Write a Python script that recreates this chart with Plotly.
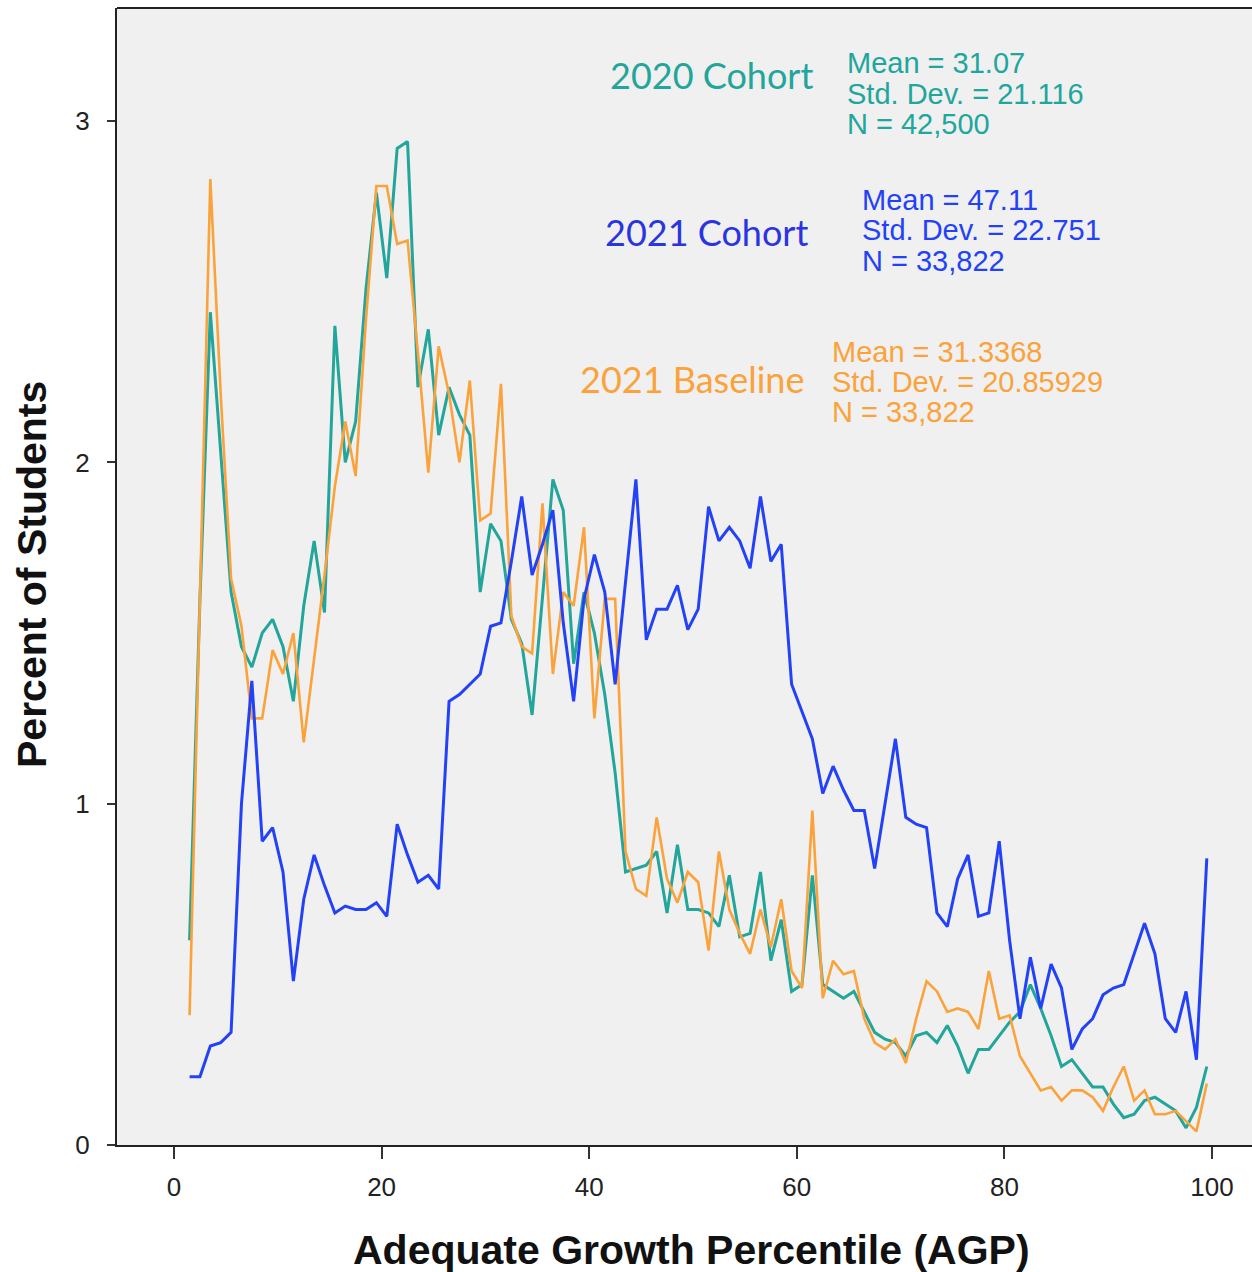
import plotly.graph_objects as go

# AGP bins (plotted at bin midpoints)
bin_mid = [k + 0.5 for k in range(1, 100)]

# Percent of students per AGP bin
cohort_2020 = [
    0.60, 1.60, 2.44, 2.03, 1.62, 1.46, 1.40, 1.50, 1.54, 1.46,
    1.30, 1.58, 1.77, 1.56, 2.40, 2.00, 2.12, 2.51, 2.79, 2.54,
    2.92, 2.94, 2.22, 2.39, 2.08, 2.22, 2.14, 2.08, 1.62, 1.82,
    1.77, 1.54, 1.47, 1.26, 1.61, 1.95, 1.86, 1.41, 1.62, 1.50,
    1.32, 1.09, 0.80, 0.81, 0.82, 0.86, 0.68, 0.88, 0.69, 0.69,
    0.68, 0.64, 0.79, 0.61, 0.62, 0.80, 0.54, 0.66, 0.45, 0.47,
    0.79, 0.47, 0.45, 0.43, 0.45, 0.39, 0.33, 0.31, 0.30, 0.26,
    0.32, 0.33, 0.30, 0.35, 0.29, 0.21, 0.28, 0.28, 0.32, 0.36,
    0.39, 0.47, 0.40, 0.32, 0.23, 0.25, 0.21, 0.17, 0.17, 0.12,
    0.08, 0.09, 0.13, 0.14, 0.12, 0.10, 0.05, 0.11, 0.23,
]

cohort_2021 = [
    0.20, 0.20, 0.29, 0.30, 0.33, 1.00, 1.36, 0.89, 0.93, 0.80,
    0.48, 0.72, 0.85, 0.76, 0.68, 0.70, 0.69, 0.69, 0.71, 0.67,
    0.94, 0.85, 0.77, 0.79, 0.75, 1.30, 1.32, 1.35, 1.38, 1.52,
    1.53, 1.71, 1.90, 1.67, 1.76, 1.86, 1.53, 1.30, 1.60, 1.73,
    1.62, 1.35, 1.65, 1.95, 1.48, 1.57, 1.57, 1.64, 1.51, 1.57,
    1.87, 1.77, 1.81, 1.77, 1.69, 1.90, 1.71, 1.76, 1.35, 1.27,
    1.19, 1.03, 1.11, 1.04, 0.98, 0.98, 0.81, 1.00, 1.19, 0.96,
    0.94, 0.93, 0.68, 0.64, 0.78, 0.85, 0.67, 0.68, 0.89, 0.60,
    0.37, 0.55, 0.40, 0.53, 0.46, 0.28, 0.34, 0.37, 0.44, 0.46,
    0.47, 0.56, 0.65, 0.56, 0.37, 0.33, 0.45, 0.25, 0.84,
]

baseline_2021 = [
    0.38, 1.65, 2.83, 2.20, 1.66, 1.52, 1.25, 1.25, 1.45, 1.38,
    1.50, 1.18, 1.42, 1.67, 1.93, 2.12, 1.96, 2.42, 2.81, 2.81,
    2.64, 2.65, 2.32, 1.97, 2.34, 2.20, 2.00, 2.24, 1.83, 1.85,
    2.23, 1.55, 1.46, 1.44, 1.88, 1.38, 1.62, 1.58, 1.81, 1.25,
    1.60, 1.60, 0.86, 0.75, 0.73, 0.96, 0.78, 0.71, 0.80, 0.77,
    0.57, 0.86, 0.69, 0.62, 0.56, 0.69, 0.58, 0.72, 0.51, 0.46,
    0.98, 0.43, 0.54, 0.50, 0.51, 0.37, 0.30, 0.28, 0.31, 0.24,
    0.37, 0.48, 0.45, 0.39, 0.40, 0.39, 0.34, 0.51, 0.37, 0.38,
    0.26, 0.21, 0.16, 0.17, 0.13, 0.16, 0.16, 0.14, 0.10, 0.17,
    0.23, 0.13, 0.16, 0.09, 0.09, 0.10, 0.07, 0.04, 0.18,
]

x_ticks = [0, 20, 40, 60, 80, 100]
y_ticks = [0, 1, 2, 3]

# Summary statistics shown beside each curve
stats = {
    "2020 Cohort": ["Mean = 31.07", "Std. Dev. = 21.116", "N = 42,500"],
    "2021 Cohort": ["Mean = 47.11", "Std. Dev. = 22.751", "N = 33,822"],
    "2021 Baseline": ["Mean = 31.3368", "Std. Dev. = 20.85929", "N = 33,822"],
}

TEAL = "#22A59B"
BLUE = "#2342F7"
ORANGE = "#FBA23A"

W, H = 1252, 1272
L, R, T, B = 117, 0, 8, 127
PW, PH = W - L - R, H - T - B


def px(xp):
    return (xp - L) / PW


def py(yp):
    return (H - B - yp) / PH


fig = go.Figure()
for name, vals, col, lw in [
    ("2020 Cohort", cohort_2020, TEAL, 3),
    ("2021 Baseline", baseline_2021, ORANGE, 2.6),
    ("2021 Cohort", cohort_2021, BLUE, 3),
]:
    fig.add_trace(go.Scatter(x=bin_mid, y=vals, mode="lines", name=name,
                             line=dict(color=col, width=lw), showlegend=False))

annotations = []


def label(text, xp, yp, color, size, family, anchor):
    annotations.append(dict(text=text, xref="paper", yref="paper",
                            x=px(xp), y=py(yp), xanchor=anchor, yanchor="middle",
                            showarrow=False,
                            font=dict(color=color, size=size, family=family)))


groups = [
    ("2020 Cohort", TEAL, "#20A69C", 815, 75, 845, [63, 94, 124]),
    ("2021 Cohort", "#2A34E0", BLUE, 810, 232, 860, [200, 230, 261]),
    ("2021 Baseline", ORANGE, ORANGE, 806, 379, 830, [352, 382, 412]),
]
for name, tcol, scol, tx, ty, sx, sys_ in groups:
    label(name, tx, ty, tcol, 36, "Lato", "right")
    for line, yy in zip(stats[name], sys_):
        label(line, sx, yy, scol, 29, "Liberation Sans", "left")

# Axis titles
annotations.append(dict(text="<b>Percent of Students</b>", xref="paper", yref="paper",
                        x=px(32), y=py(575), xanchor="center", yanchor="middle",
                        textangle=-90, showarrow=False,
                        font=dict(size=41, color="#111", family="Liberation Sans")))
annotations.append(dict(text="<b>Adequate Growth Percentile (AGP)</b>", xref="paper", yref="paper",
                        x=px(691), y=py(1250), xanchor="center", yanchor="middle",
                        showarrow=False,
                        font=dict(size=41, color="#111", family="Liberation Sans")))

px_per_unit = 10.38
x0 = -(174 - L) / px_per_unit
x1 = x0 + PW / px_per_unit
y_per_unit = 341.3

fig.update_layout(
    width=W, height=H,
    margin=dict(l=L, r=R, t=T, b=B, pad=0),
    paper_bgcolor="white",
    plot_bgcolor="#F0F0F0",
    annotations=annotations,
    shapes=[dict(type="line", xref="paper", yref="paper", x0=0, x1=1, y0=1, y1=1,
                 line=dict(color="#222", width=2))],
    xaxis=dict(range=[x0, x1], tickvals=x_ticks, ticks="outside", ticklen=12,
               tickwidth=2, tickcolor="#333", showline=True, linecolor="#222",
               linewidth=2, showgrid=False, zeroline=False,
               tickfont=dict(size=26, color="#222", family="Liberation Sans"),
               ticklabelstandoff=6),
    yaxis=dict(range=[0, PH / y_per_unit], tickvals=y_ticks, ticks="outside",
               ticklen=8, tickwidth=2, tickcolor="#333", showline=True,
               linecolor="#222", linewidth=2, showgrid=False, zeroline=False,
               tickfont=dict(size=26, color="#222", family="Liberation Sans"),
               ticklabelstandoff=12),
)

fig.write_html("out.html")
